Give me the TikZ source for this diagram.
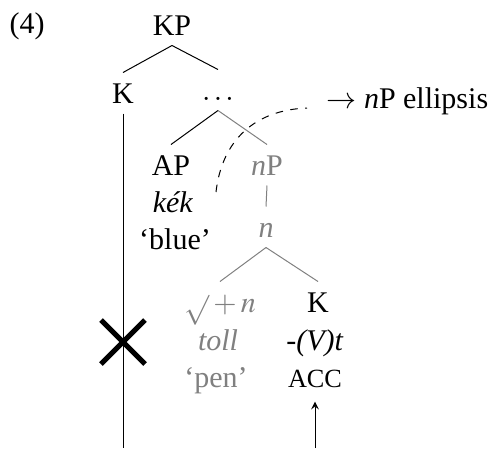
\documentclass[tikz,border=0pt,12pt]{standalone}
\usepackage{mathptmx}
\usepackage{fontspec}
\setmainfont{Liberation Serif}
\newcommand{\accfont}{\fontsize{10.5}{12}\selectfont}
\begin{document}
\begin{tikzpicture}[>=stealth,x=0.4pt,y=-0.4pt,
  cat/.style={anchor=base,text height=8pt,text depth=0pt},
  gloss/.style={anchor=base},
  elided/.style={gray}]
\useasboundingbox (0,0) rectangle (500,448);
\node[gloss] (ex) at (27,33) {(4)};
\node[cat] (kp) at (172,35) {KP};
\node[cat] (kk) at (123,103) {K};
\node[cat] (dots) at (218,100) {$\ldots$};
\node[anchor=base west] (ell) at (316,108) {$\rightarrow$ \textit{n}P ellipsis};
\node[cat] (ap) at (171,175) {AP};
\node[gloss] (kek) at (173,212) {\textit{kék}};
\node[gloss] (blue) at (175,249) {`blue'};
\node[cat,elided] (np) at (267,175) {\textit{n}P};
\node[cat,elided] (nn) at (266,237) {\textit{n}};
\node[cat,elided] (root) at (220,312) {$\sqrt{}+n$};
\node[gloss,elided] (toll) at (218,350) {\textit{toll}};
\node[gloss,elided] (pen) at (216,387) {`pen'};
\node[cat] (kc) at (318,312) {K};
\node[gloss] (vt) at (315,350) {\textit{-(V)t}};
\node[gloss] (acc) at (315,387) {\accfont ACC};
\coordinate (kbot) at (123,448);
\coordinate (cross) at (123,342);
\coordinate (dstart) at (216,192);
\coordinate (dend) at (307,108);
\draw (kp.south)--(kk.north);
\draw (kp.south)--(dots.north);
\draw (dots.south)--(ap.north);
\draw[elided] (dots.south)--(np.north);
\draw[elided] (np.south)--(nn.north);
\draw[elided] (nn.south)--(root.north);
\draw[elided] (nn.south)--(kc.north);
\draw (kk.south)--(kbot);
\draw[line width=2pt] ([shift={(-22,-22)}]cross)--([shift={(22,22)}]cross);
\draw[line width=2pt] ([shift={(-22,22)}]cross)--([shift={(22,-22)}]cross);
\draw[->,shorten >=1.5pt] (acc.south |- kbot)--(acc.south);
\draw[dashed] (dstart) .. controls (222,140) and (255,110) .. (dend);
\end{tikzpicture}
\end{document}
